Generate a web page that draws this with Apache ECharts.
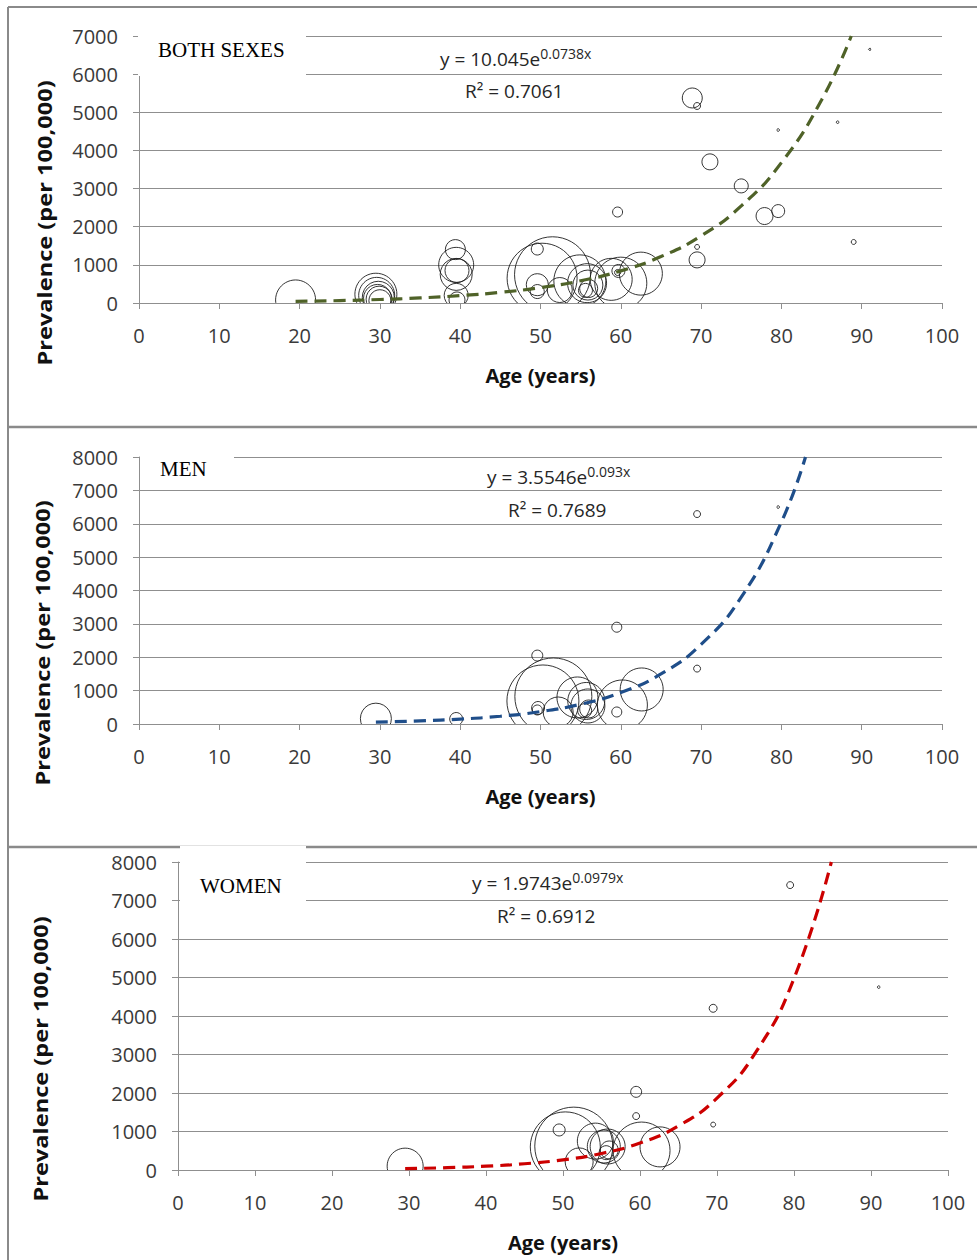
<!DOCTYPE html>
<html>
<head>
<meta charset="utf-8">
<script src="https://cdn.jsdelivr.net/npm/echarts@6.0.0/dist/echarts.min.js"></script>
<style>
html, body { margin: 0; padding: 0; background: #fff; }
#main { width: 977px; height: 1260px; }
</style>
</head>
<body>
<div id="main"></div>
<script>
// ---- data ----
// both sexes: bubble centre (age, prevalence) and weight (bubble area)
const bothAge = [19.5, 29.5, 29.6, 29.8, 29.7, 29.9, 30.0, 39.4, 39.5, 39.5, 39.6, 39.5, 39.6, 49.6, 50.2, 51.5, 49.6, 49.6, 52.4, 54.9, 55.8, 55.9, 56.0, 55.6, 58.8, 60.0, 62.5, 59.7, 59.6, 59.6, 68.9, 69.5, 71.1, 75.0, 77.9, 79.6, 69.5, 69.5, 79.6, 87.0, 91.0, 89.0];
const bothPrev = [80, 230, 200, 150, 120, 100, 60, 1400, 1000, 750, 850, 200, 80, 1415, 650, 740, 480, 300, 340, 580, 520, 470, 380, 330, 620, 520, 770, 840, 800, 2385, 5375, 5165, 3700, 3070, 2280, 2410, 1130, 1470, 4535, 4740, 6650, 1600];
const bothWeight = [400, 441, 324, 256, 196, 169, 121, 100, 306, 256, 144, 144, 64, 36, 1225, 1444, 121, 49, 156, 676, 380, 225, 81, 49, 441, 676, 462, 42, 9, 25, 100, 12, 64, 49, 72, 42, 64, 6, 1.7, 1.7, 1, 6];
const bothTrendAge = [19.5, 25, 30, 35, 40, 45, 50, 55, 60, 65, 70, 75, 80, 85, 88.7];
const bothTrendPrev = [42, 63, 92, 133, 193, 280, 403, 583, 843, 1218, 1760, 2545, 3680, 5320, 7000];

// men
const menAge = [29.5, 39.5, 49.6, 49.7, 49.6, 59.5, 59.5, 69.5, 69.5, 79.6, 50.3, 51.6, 54.6, 52.2, 55.7, 55.9, 56.0, 55.5, 60.2, 62.6];
const menPrev = [160, 150, 2050, 480, 420, 2900, 360, 1660, 6290, 6500, 690, 825, 795, 360, 690, 540, 450, 400, 570, 1035];
const menWeight = [240, 42, 30, 42, 25, 25, 25, 12, 12, 1.7, 1296, 1482, 420, 225, 342, 289, 81, 49, 625, 462];
const menTrendAge = [29.5, 35, 40, 45, 50, 55, 60, 65, 70, 75, 80, 83];
const menTrendPrev = [55, 92, 147, 233, 372, 592, 942, 1500, 2388, 3801, 6052, 8000];

// women
const womenAge = [29.5, 79.5, 91.0, 69.5, 59.5, 59.5, 69.5, 49.5, 50.3, 51.4, 52.1, 54.2, 55.3, 55.8, 56.0, 55.6, 60.2, 62.6];
const womenPrev = [100, 7400, 4750, 4200, 2030, 1400, 1180, 1040, 600, 620, 210, 750, 610, 610, 520, 450, 505, 600];
const womenWeight = [324, 12, 1.7, 16, 30, 12, 6, 36, 1225, 1521, 196, 324, 272, 306, 81, 49, 812, 400];
const womenTrendAge = [29.5, 35, 40, 45, 50, 55, 60, 65, 70, 75, 80, 84.85];
const womenTrendPrev = [35, 61, 99, 162, 264, 430, 702, 1146, 1868, 3047, 4975, 8000];

const ageTicks = [0, 100, 10];      // min, max, step
const yMax = [7000, 8000, 8000];
const panelNames = ['BOTH SEXES', 'MEN', 'WOMEN'];
const equations = [['10.045e', '0.0738x', '0.7061'], ['3.5546e', '0.093x', '0.7689'], ['1.9743e', '0.0979x', '0.6912']];

// ---- chart ----
const FONT = 'Open Sans';
const GRID_COL = '#8f8f8f';
const trendColors = ['#4f6228', '#1f4e8a', '#cc0000'];

let myChart = echarts.init(document.getElementById('main'), null, {renderer: 'svg'});

let grids = [
    {left: 139, right: 35, top: 36, height: 267},
    {left: 139, right: 35, top: 457, height: 267},
    {left: 178, right: 29, top: 862, height: 308}
];

let xAxes = [], yAxes = [], series = [];
let panels = [
    [bothAge, bothPrev, bothWeight, bothTrendAge, bothTrendPrev],
    [menAge, menPrev, menWeight, menTrendAge, menTrendPrev],
    [womenAge, womenPrev, womenWeight, womenTrendAge, womenTrendPrev]
];

function renderBubble(params, api) {
    let p = api.coord([api.value(0), api.value(1)]);
    return {
        type: 'circle',
        shape: {cx: p[0], cy: p[1], r: Math.sqrt(api.value(2))},
        style: {fill: 'none', stroke: '#1e1e1e', lineWidth: 0.9}
    };
}

panels.forEach(function (pd, i) {
    xAxes.push({
        gridIndex: i, type: 'value', min: ageTicks[0], max: ageTicks[1], interval: ageTicks[2],
        name: 'Age (years)', nameLocation: 'middle', nameGap: 62,
        nameTextStyle: {fontFamily: FONT, fontWeight: 'bold', fontSize: 20, color: '#111'},
        axisLine: {lineStyle: {color: GRID_COL}},
        axisTick: {length: 6, lineStyle: {color: GRID_COL}},
        axisLabel: {margin: 22, fontFamily: FONT, fontSize: 20, color: '#3a3a3a'},
        splitLine: {show: false}
    });
    yAxes.push({
        gridIndex: i, type: 'value', min: 0, max: yMax[i], interval: 1000,
        axisLine: {show: true, lineStyle: {color: GRID_COL}},
        axisTick: {show: true, length: 6, lineStyle: {color: GRID_COL}},
        axisLabel: {margin: 21, fontFamily: FONT, fontSize: 20, color: '#3a3a3a',
            formatter: function (v) { return String(v); }},
        splitLine: {lineStyle: {color: GRID_COL}}
    });
    series.push({
        type: 'custom',
        xAxisIndex: i, yAxisIndex: i,
        clip: true,
        silent: true,
        dimensions: ['age', 'prev', 'weight'],
        encode: {x: 'age', y: 'prev'},
        renderItem: renderBubble,
        data: pd[0].map(function (a, k) { return [a, pd[1][k], pd[2][k]]; }),
        z: 2
    });
    series.push({
        type: 'line',
        xAxisIndex: i, yAxisIndex: i,
        symbol: 'none', smooth: true, clip: true, silent: true,
        lineStyle: {color: trendColors[i], width: 3.2, type: [12, 7]},
        data: pd[3].map(function (a, k) { return [a, pd[4][k]]; }),
        z: 3
    });
});

// frame, panel labels, equations, y titles
let graphics = [];
const FRAME = '#8a8a8a';
graphics.push({type: 'line', z: 1, shape: {x1: 8, y1: 7, x2: 8, y2: 1260}, style: {stroke: FRAME, lineWidth: 2}});
graphics.push({type: 'line', z: 1, shape: {x1: 8, y1: 7, x2: 977, y2: 7}, style: {stroke: FRAME, lineWidth: 2}});
graphics.push({type: 'line', z: 1, shape: {x1: 8, y1: 427, x2: 977, y2: 427}, style: {stroke: FRAME, lineWidth: 2.5}});
graphics.push({type: 'line', z: 1, shape: {x1: 8, y1: 847, x2: 977, y2: 847}, style: {stroke: FRAME, lineWidth: 2.5}});

let labelBoxes = [[138, 26, 168, 50], [140, 445, 94, 39], [180, 846, 126, 56]];
let labelPos = [[158, 50], [160, 469], [200, 886]];
let eqPos = [[440, 59, 465, 91], [487, 477, 508, 510], [472, 883, 497, 916]];
let titlePos = [[44, 223], [42, 643], [40, 1059]];

for (let i = 0; i < 3; i++) {
    let b = labelBoxes[i];
    graphics.push({type: 'rect', z: 50, shape: {x: b[0], y: b[1], width: b[2], height: b[3]}, style: {fill: '#fff'}});
    graphics.push({type: 'text', z: 51, x: labelPos[i][0], y: labelPos[i][1],
        style: {text: panelNames[i], fontFamily: 'Liberation Serif', fontSize: 21, fill: '#000', verticalAlign: 'middle'}});
    let e = eqPos[i];
    graphics.push({type: 'text', z: 51, x: e[0], y: e[1],
        style: {
            text: '{m|y = ' + equations[i][0] + '}{s|' + equations[i][1] + '}',
            verticalAlign: 'middle',
            rich: {
                m: {fontFamily: FONT, fontSize: 19, fill: '#262626', lineHeight: 26},
                s: {fontFamily: FONT, fontSize: 14, fill: '#262626', lineHeight: 20, verticalAlign: 'top'}
            }
        }});
    graphics.push({type: 'text', z: 51, x: e[2], y: e[3],
        style: {text: 'R² = ' + equations[i][2], fontFamily: FONT, fontSize: 19, fill: '#262626', verticalAlign: 'middle'}});
    graphics.push({type: 'text', z: 51, x: titlePos[i][0], y: titlePos[i][1], rotation: Math.PI / 2, scaleX: 1.18,
        style: {text: 'Prevalence (per 100,000)', fontFamily: FONT, fontWeight: 'bold', fontSize: 20, fill: '#111',
            align: 'center', verticalAlign: 'middle'}});
}

let option = {
    backgroundColor: '#fff',
    animation: false,
    grid: grids,
    xAxis: xAxes,
    yAxis: yAxes,
    series: series,
    graphic: {elements: graphics}
};
myChart.setOption(option);
</script>
</body>
</html>
